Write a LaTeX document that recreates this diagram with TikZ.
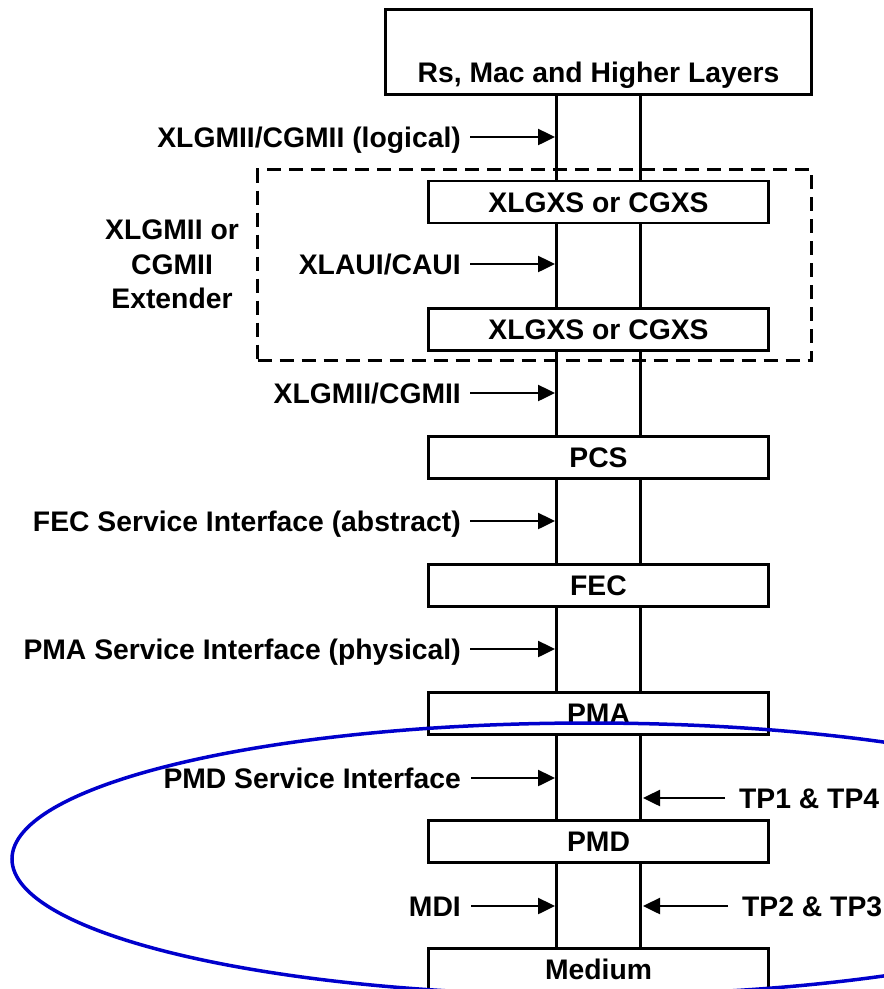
\documentclass[tikz,border=0pt]{standalone}
\usepackage{fontspec}
\setmainfont{Liberation Sans}
\usetikzlibrary{arrows.meta}
\definecolor{ringblue}{RGB}{0,0,204}
\tikzset{
  layer/.style={draw, line width=2.5pt, minimum width=340pt, minimum height=42pt,
    inner sep=0pt, text height=20.3pt, text depth=0pt},
  iface/.style={inner sep=0pt, text height=20.3pt, text depth=0pt},
  tap/.style={-{Triangle[length=17pt,width=16pt]}, line width=2.5pt},
  wire/.style={line width=2.5pt},
}

\begin{document}
\begin{tikzpicture}[x=1pt,y=-1pt,font=\fontsize{28.3}{34.5}\selectfont\bfseries]
\useasboundingbox (0,0) rectangle (884,989);
\clip (0,0) rectangle (884,989);

\node[layer, minimum width=426pt, minimum height=85pt] (rs) at (598.5,52) {};
\node[anchor=base] (rs-txt) at (598.5,82) {Rs, Mac and Higher Layers};
\node[layer] (xgxs-1) at (598.5,202) {XLGXS or CGXS};
\node[layer] (xgxs-2) at (598.5,329.5) {XLGXS or CGXS};
\node[layer] (pcs) at (598.5,457.5) {PCS};
\node[layer] (fec) at (598.5,585.5) {FEC};
\node[layer] (pma) at (598.5,713.5) {PMA};
\node[layer] (pmd) at (598.5,841.5) {PMD};
\node[layer] (medium) at (598.5,969.5) {Medium};

\node[draw, line width=2.5pt, dash pattern=on 14pt off 8pt, minimum width=554pt,
  minimum height=191pt] (ext) at (534.5,265) {};
\node[inner sep=0pt, align=center] (ext-lbl) at (172,264.5) {XLGMII or\\CGMII\\Extender};

\path[wire] ([xshift=-42pt]rs.south) edge ([xshift=-42pt]xgxs-1.north)
            ([xshift=42pt]rs.south) edge ([xshift=42pt]xgxs-1.north);
\path[wire] ([xshift=-42pt]xgxs-1.south) edge ([xshift=-42pt]xgxs-2.north)
            ([xshift=42pt]xgxs-1.south) edge ([xshift=42pt]xgxs-2.north);
\path[wire] ([xshift=-42pt]xgxs-2.south) edge ([xshift=-42pt]pcs.north)
            ([xshift=42pt]xgxs-2.south) edge ([xshift=42pt]pcs.north);
\path[wire] ([xshift=-42pt]pcs.south) edge ([xshift=-42pt]fec.north)
            ([xshift=42pt]pcs.south) edge ([xshift=42pt]fec.north);
\path[wire] ([xshift=-42pt]fec.south) edge ([xshift=-42pt]pma.north)
            ([xshift=42pt]fec.south) edge ([xshift=42pt]pma.north);
\path[wire] ([xshift=-42pt]pma.south) edge ([xshift=-42pt]pmd.north)
            ([xshift=42pt]pma.south) edge ([xshift=42pt]pmd.north);
\path[wire] ([xshift=-42pt]pmd.south) edge ([xshift=-42pt]medium.north)
            ([xshift=42pt]pmd.south) edge ([xshift=42pt]medium.north);

\node[iface, anchor=east] (xlgmii-log) at (461,137) {XLGMII/CGMII (logical)};
\node[iface, anchor=east] (xlaui) at (461,264) {XLAUI/CAUI};
\node[iface, anchor=east] (xlgmii) at (461,393) {XLGMII/CGMII};
\node[iface, anchor=east] (fec-si) at (461,521) {FEC Service Interface (abstract)};
\node[iface, anchor=east] (pma-si) at (461,649) {PMA Service Interface (physical)};
\node[iface, anchor=east] (pmd-si) at (461,778) {PMD Service Interface};
\node[iface, anchor=east] (mdi) at (461,906) {MDI};
\node[iface, anchor=west] (tp14) at (739,798) {TP1 \& TP4};
\node[iface, anchor=west] (tp23) at (742,906) {TP2 \& TP3};

\coordinate (xlgmii-log-at) at (555,137);
\coordinate (xlaui-at) at (555,264);
\coordinate (xlgmii-at) at (555,393);
\coordinate (fec-si-at) at (555,521);
\coordinate (pma-si-at) at (555,649);
\coordinate (pmd-si-at) at (555,778);
\coordinate (mdi-at) at (555,906);
\coordinate (tp14-at) at (643,798);
\coordinate (tp23-at) at (643,906);

\path[tap, shorten <=9pt] (xlgmii-log) edge (xlgmii-log-at);
\path[tap, shorten <=9pt] (xlaui) edge (xlaui-at);
\path[tap, shorten <=9pt] (xlgmii) edge (xlgmii-at);
\path[tap, shorten <=9pt] (fec-si) edge (fec-si-at);
\path[tap, shorten <=9pt] (pma-si) edge (pma-si-at);
\path[tap, shorten <=10pt] (pmd-si) edge (pmd-si-at);
\path[tap, shorten <=10pt] (mdi) edge (mdi-at);
\path[tap, shorten <=14pt] (tp14) edge (tp14-at);
\path[tap, shorten <=14pt] (tp23) edge (tp23-at);

\draw[ringblue, line width=3.5pt] (589,859) ellipse [x radius=577, y radius=136];
\end{tikzpicture}
\end{document}
